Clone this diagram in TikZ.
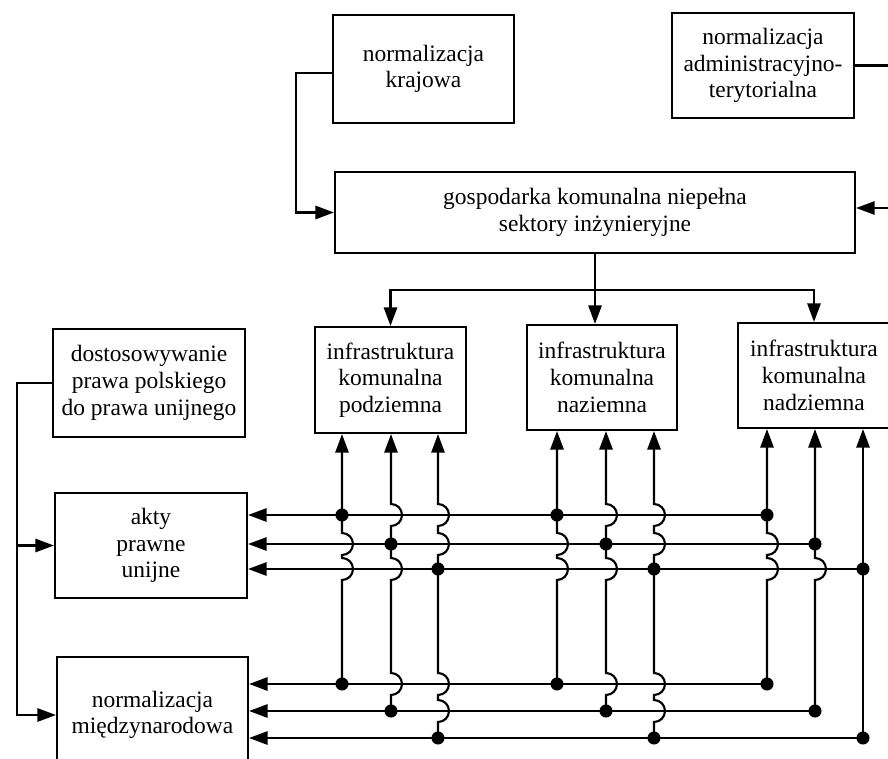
\documentclass[tikz,border=0pt]{standalone}
\usepackage{fontspec}
\setmainfont{Liberation Serif}
\usetikzlibrary{arrows.meta}

% a semicircular bridge on a vertical wire, bulging to the right, centred on (#1,#2)
\newcommand{\hopat}[2]{-- (#1,#2-11) arc[start angle=90,end angle=-90,radius=8.25pt]}

\begin{document}
\begin{tikzpicture}[x=0.75pt,y=-0.75pt,
  line width=1.6pt,
  box/.style={draw, line width=1.6pt, align=center, inner sep=0pt,
              font=\fontsize{17.6}{20}\selectfont},
  arr/.style={-{Triangle[length=14pt,width=10pt]}},
  rarr/.style={{Triangle[length=14pt,width=10pt]}-}
]
\useasboundingbox (0,0) rectangle (888,759);

% ---- boxes ----
\node[box, minimum width=135.75pt, minimum height=81pt]  (kraj) at (423.5,69)  {normalizacja\\krajowa};
\node[box, minimum width=136.5pt,  minimum height=78.75pt] (adm) at (763,65.5) {normalizacja\\administracyjno-\\terytorialna};
\node[box, minimum width=390pt,    minimum height=60.75pt] (gosp) at (595,212.5) {gospodarka komunalna niepełna\\sektory inżynieryjne};
\node[box, minimum width=113.25pt, minimum height=79.5pt]  (i1) at (390.5,380) {infrastruktura\\komunalna\\podziemna};
\node[box, minimum width=112.5pt,  minimum height=78.75pt] (i2) at (602,377.5) {infrastruktura\\komunalna\\naziemna};
\node[box, minimum width=114pt,    minimum height=78.75pt] (i3) at (814,375.5) {infrastruktura\\komunalna\\nadziemna};
\node[box, minimum width=144pt,    minimum height=81pt]    (dost) at (149,383) {dostosowywanie\\prawa polskiego\\do prawa unijnego};
\node[box, minimum width=144pt,    minimum height=78.75pt] (akty) at (151,545.5) {akty\\prawne\\unijne};
\node[box, minimum width=143.25pt, minimum height=87pt]    (miedz) at (152.5,715) {normalizacja\\międzynarodowa};

% ---- upper part ----
\coordinate (kout) at (333,73);
\coordinate (kbend) at (296,73);
\coordinate (aout) at (892,66);
\coordinate (gin) at (892,208);
\coordinate (split) at (595,290);
\draw[arr] (kraj.west |- kout) -- (kbend) |- (gosp.west);
\draw (adm.east) -- (adm.east -| aout);
\draw[arr] (gin) -- (gosp.east |- gin);
\draw[arr] (gosp.south) -- (gosp.south |- i2.north);
\draw[arr] (split) -| (i1.north);
\draw[arr] (split) -| (i3.north);

% ---- left feed ----
\coordinate (dbend) at (17,383);
\draw[arr] (dost.west) -- (dbend) |- (akty.west);
\draw[arr] (dbend) |- (miedz.west);

% ---- wire columns under the infrastructure boxes ----
\coordinate (c11) at (342,0); \coordinate (c12) at (391,0); \coordinate (c13) at (438,0);
\coordinate (c21) at (557,0); \coordinate (c22) at (606,0); \coordinate (c23) at (654,0);
\coordinate (c31) at (767,0); \coordinate (c32) at (815,0); \coordinate (c33) at (863,0);

% bus rows: 515, 544, 569 (to akty), 684, 711, 738 (to normalizacja miedzynarodowa)
\draw[rarr] (i1.south -| c11) -- (342,515) \hopat{342}{544} \hopat{342}{569} -- (342,684);
\draw[rarr] (i1.south -| c12) \hopat{391}{515} -- (391,544) \hopat{391}{569} \hopat{391}{684} -- (391,711);
\draw[rarr] (i1.south -| c13) \hopat{438}{515} \hopat{438}{544} -- (438,569) \hopat{438}{684} \hopat{438}{711} -- (438,738);

\draw[rarr] (i2.south -| c21) -- (557,515) \hopat{557}{544} \hopat{557}{569} -- (557,684);
\draw[rarr] (i2.south -| c22) \hopat{606}{515} -- (606,544) \hopat{606}{569} \hopat{606}{684} -- (606,711);
\draw[rarr] (i2.south -| c23) \hopat{654}{515} \hopat{654}{544} -- (654,569) \hopat{654}{684} \hopat{654}{711} -- (654,738);

\draw[rarr] (i3.south -| c31) -- (767,515) \hopat{767}{544} \hopat{767}{569} -- (767,684);
\draw[rarr] (i3.south -| c32) -- (815,544) \hopat{815}{569} -- (815,711);
\draw[rarr] (i3.south -| c33) -- (863,738);

% bus lines into the legal boxes
\coordinate (u1) at (767,515); \coordinate (u2) at (815,544); \coordinate (u3) at (863,569);
\coordinate (m1) at (767,684); \coordinate (m2) at (815,711); \coordinate (m3) at (863,738);
\foreach \p in {u1,u2,u3} \draw[arr] (\p) -- (akty.east |- \p);
\foreach \p in {m1,m2,m3} \draw[arr] (\p) -- (miedz.east |- \p);

% junction dots
\foreach \x in {342,557,767} {\fill (\x,515) circle[radius=4.9pt]; \fill (\x,684) circle[radius=4.9pt];}
\foreach \x in {391,606,815} {\fill (\x,544) circle[radius=4.9pt]; \fill (\x,711) circle[radius=4.9pt];}
\foreach \x in {438,654,863} {\fill (\x,569) circle[radius=4.9pt]; \fill (\x,738) circle[radius=4.9pt];}
\end{tikzpicture}
\end{document}
